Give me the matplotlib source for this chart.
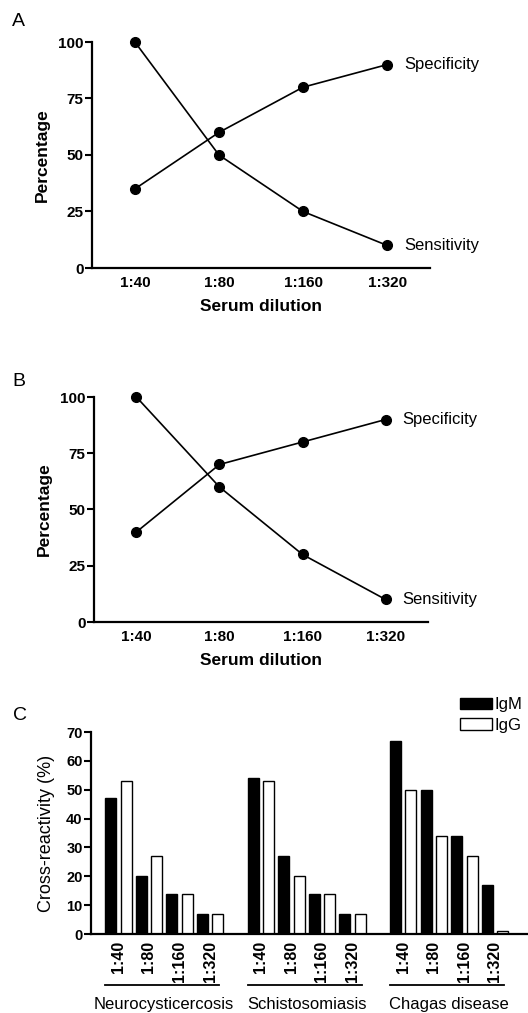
import matplotlib
matplotlib.use("Agg")
import matplotlib.pyplot as plt
import matplotlib.transforms as mtransforms
from matplotlib.patches import Patch

plt.rcParams['font.family'] = ['Liberation Sans', 'DejaVu Sans']

# ---- data ----
dilutions = ["1:40", "1:80", "1:160", "1:320"]
sens_A = [100, 50, 25, 10]
spec_A = [35, 60, 80, 90]
sens_B = [100, 60, 30, 10]
spec_B = [40, 70, 80, 90]

diseases = ["Neurocysticercosis", "Schistosomiasis", "Chagas disease"]
igm = [[47, 20, 14, 7], [54, 27, 14, 7], [67, 50, 34, 17]]
igg = [[53, 27, 14, 7], [53, 20, 14, 7], [50, 34, 27, 1]]
yticks_AB = [0, 25, 50, 75, 100]
yticks_C = [0, 10, 20, 30, 40, 50, 60, 70]

W, H = 528, 1013
fig = plt.figure(figsize=(W / 100, H / 100), dpi=100)


def fx(px):
    return px / W


def fy(py):
    return 1 - py / H


def style_axes(ax, fs):
    for s in ['top', 'right']:
        ax.spines[s].set_visible(False)
    for s in ['left', 'bottom']:
        ax.spines[s].set_linewidth(1.6)
    ax.tick_params(axis='y', length=5, width=1.5, labelsize=fs, pad=1.0)
    ax.tick_params(axis='x', length=0, labelsize=fs, pad=6)
    for lab in ax.get_xticklabels() + ax.get_yticklabels():
        lab.set_fontweight('bold')


def line_panel(rect, sens, spec, letter, letter_xy):
    ax = fig.add_axes(rect)
    x = list(range(len(dilutions)))
    ax.plot(x, sens, color='black', lw=1.2, marker='o', ms=7, clip_on=False, zorder=3)
    ax.plot(x, spec, color='black', lw=1.2, marker='o', ms=7, clip_on=False, zorder=3)
    ax.set_xlim(-0.51, 3.51)
    ax.set_ylim(0, 100)
    ax.set_xticks(x)
    ax.set_xticklabels(dilutions)
    ax.set_yticks(yticks_AB)
    style_axes(ax, 11)
    ax.set_ylabel("Percentage", fontsize=12.5, fontweight='bold', labelpad=6)
    ax.set_xlabel("Serum dilution", fontsize=12.5, fontweight='bold', labelpad=6)
    ax.annotate("Specificity", (x[-1], spec[-1]), xytext=(12, 0), textcoords='offset points',
                va='center', ha='left', fontsize=12, annotation_clip=False)
    ax.annotate("Sensitivity", (x[-1], sens[-1]), xytext=(12, 0), textcoords='offset points',
                va='center', ha='left', fontsize=12, annotation_clip=False)
    fig.text(fx(letter_xy[0]), fy(letter_xy[1]), letter, fontsize=14, ha='left', va='center')
    return ax


line_panel([fx(92), fy(268), fx(430) - fx(92), fy(42) - fy(268)], sens_A, spec_A, "A", (12, 22))
line_panel([fx(94), fy(622), fx(428) - fx(94), fy(397) - fy(622)], sens_B, spec_B, "B", (12, 381))

# ---- panel C ----
axc = fig.add_axes([fx(91), fy(934), 1 - fx(91), fy(732) - fy(934)])
group_gap = 4.66
bw = 0.36
off = 0.25
tick_pos = []
tick_lab = []
for g, dis in enumerate(diseases):
    base = g * group_gap
    pos = [base + i for i in range(len(dilutions))]
    axc.bar([p - off for p in pos], igm[g], width=bw, color='black', edgecolor='black',
            linewidth=1.0, label='IgM' if g == 0 else None)
    axc.bar([p + off for p in pos], igg[g], width=bw, color='white', edgecolor='black',
            linewidth=1.0, label='IgG' if g == 0 else None)
    tick_pos += pos
    tick_lab += dilutions

axc.set_xlim(-0.895, 13.4)
axc.set_ylim(0, 70)
axc.set_yticks(yticks_C)
axc.set_xticks(tick_pos)
axc.set_xticklabels(tick_lab, rotation=90)
style_axes(axc, 10.5)
axc.tick_params(axis='x', pad=5, labelsize=11.5)
axc.set_ylabel("Cross-reactivity (%)", fontsize=13, labelpad=8)

trans = mtransforms.blended_transform_factory(axc.transData, axc.transAxes)
for g, dis in enumerate(diseases):
    base = g * group_gap
    axc.plot([base - 0.43, base + 3.3], [-0.254, -0.254], transform=trans, color='black',
             lw=1.3, clip_on=False)
    axc.text(base + 1.5, -0.35, dis, transform=trans, ha='center', va='center', fontsize=12)

fig.text(fx(13), fy(715), "C", fontsize=14, ha='left', va='center')

handles = [Patch(facecolor='black', edgecolor='black', label='IgM'),
           Patch(facecolor='white', edgecolor='black', label='IgG')]
fig.legend(handles=handles, loc='upper left', bbox_to_anchor=(fx(460), fy(697)),
           frameon=False, fontsize=12, handlelength=1.9, handleheight=0.65,
           handletextpad=0.2, labelspacing=0.35, borderpad=0, borderaxespad=0)

fig.savefig("out.png", dpi=100)
